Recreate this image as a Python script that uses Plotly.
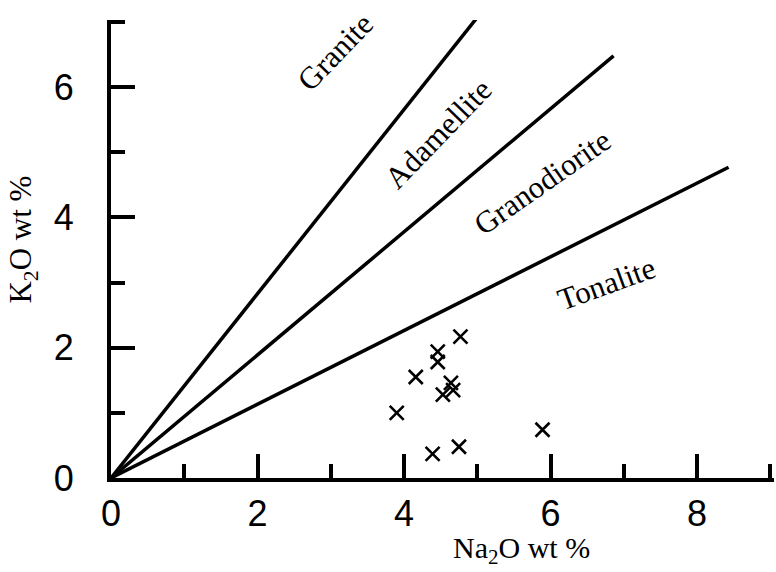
import plotly.graph_objects as go

# ---- data ----
sample_na2o = [4.77, 4.46, 4.46, 4.16, 4.64, 4.67, 4.53, 3.90, 5.89, 4.39, 4.75]
sample_k2o = [2.17, 1.94, 1.78, 1.55, 1.46, 1.35, 1.28, 1.00, 0.74, 0.37, 0.48]

boundary_end_na2o = [5.07, 6.86, 8.43]
boundary_end_k2o = [7.17, 6.48, 4.77]

field_names = ["Granite", "Adamellite", "Granodiorite", "Tonalite"]
field_label_na2o = [3.07, 4.47, 5.88, 6.77]
field_label_k2o = [6.54, 5.29, 4.54, 2.98]
field_label_angle = [-46, -46, -35, -20]

x_ticks = [0, 2, 4, 6, 8]
y_ticks = [0, 2, 4, 6]

fig = go.Figure()

for xe, ye in zip(boundary_end_na2o, boundary_end_k2o):
    fig.add_trace(go.Scatter(x=[0, xe], y=[0, ye], mode="lines",
                             line=dict(color="black", width=3.5),
                             showlegend=False, hoverinfo="skip"))

fig.add_trace(go.Scatter(x=sample_na2o, y=sample_k2o, mode="markers",
                         marker=dict(symbol="x-thin", size=14,
                                     line=dict(color="black", width=2.6)),
                         showlegend=False, cliponaxis=False))

serif = "Liberation Serif, Times New Roman, serif"
sans = "Liberation Sans, Arial, sans-serif"

for name, xv, yv, ang in zip(field_names, field_label_na2o, field_label_k2o, field_label_angle):
    fig.add_annotation(x=xv, y=yv, xref="x", yref="y", text=name, textangle=ang,
                       showarrow=False, font=dict(family=serif, size=31, color="black"))

fig.add_annotation(x=5.6, y=0, xref="x", yref="paper", yshift=-72,
                   xanchor="center", yanchor="middle",
                   text="Na<sub>2</sub>O wt %", showarrow=False,
                   font=dict(family=serif, size=30, color="black"))
fig.add_annotation(x=0, y=3.66, xref="paper", yref="y", xshift=-88,
                   xanchor="center", yanchor="middle",
                   text="K<sub>2</sub>O wt %", textangle=-90, showarrow=False,
                   font=dict(family=serif, size=31, color="black"))

axis_common = dict(showline=True, linewidth=4, linecolor="black",
                   ticks="inside", ticklen=24, tickwidth=4, tickcolor="black",
                   showgrid=False, zeroline=False,
                   tickfont=dict(family=sans, size=36, color="black"),
                   minor=dict(dtick=1, ticks="inside", ticklen=14, tickwidth=4,
                              tickcolor="black", showgrid=False))

fig.update_xaxes(range=[0, 9.05], tickvals=x_ticks, ticklabelstandoff=1, **axis_common)
fig.update_yaxes(range=[0, 7.03], tickvals=y_ticks, ticklabelstandoff=26, **axis_common)

fig.update_layout(width=776, height=572, plot_bgcolor="white", paper_bgcolor="white",
                  margin=dict(l=111, r=2, t=20, b=94))

fig.write_html("out.html")
